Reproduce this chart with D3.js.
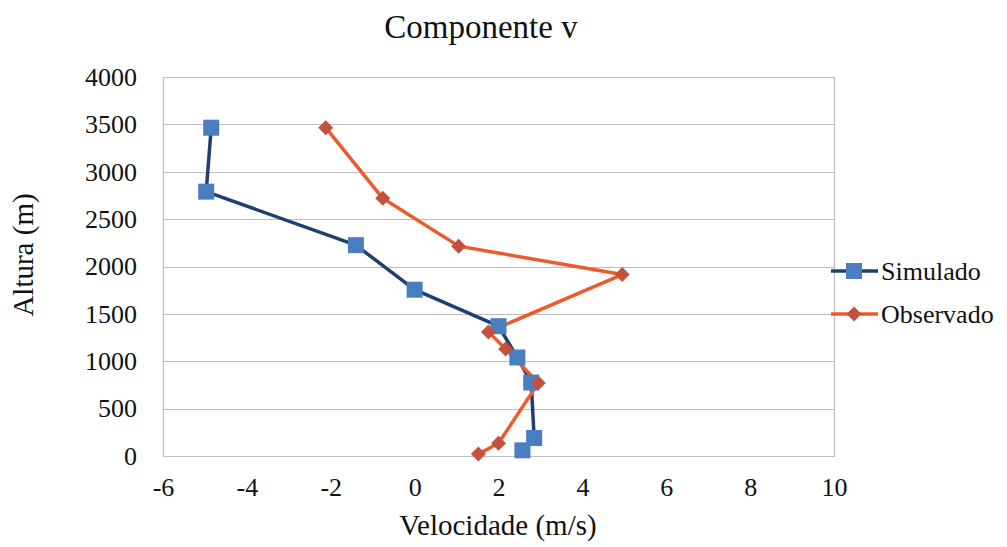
<!DOCTYPE html>
<html><head><meta charset="utf-8"><script src="https://cdn.jsdelivr.net/npm/d3@7"></script></head>
<body style="margin:0">
<svg id="chart" width="1007" height="547"></svg>
<script>
// ---- data ----
const titleText = "Componente v";
const xLabel = "Velocidade (m/s)";
const yLabel = "Altura (m)";
const seriesNames = ["Simulado", "Observado"];
const simVel = [-4.85, -4.97, -1.4, 0.0, 2.0, 2.45, 2.78, 2.85, 2.57];
const simAlt = [3465, 2790, 2225, 1755, 1370, 1040, 775, 190, 60];
const obsVel = [-2.12, -0.76, 1.05, 4.95, 1.76, 2.17, 2.95, 2.0, 1.52];
const obsAlt = [3465, 2720, 2215, 1915, 1310, 1130, 770, 135, 20];
const xTicks = [-6, -4, -2, 0, 2, 4, 6, 8, 10];
const yTicks = [0, 500, 1000, 1500, 2000, 2500, 3000, 3500, 4000];

// ---- layout ----
const FONT = "'Liberation Serif', monospace";
const svg = d3.select("#chart");
const L = 163, R = 834, T = 77, B = 456;
const x = d3.scaleLinear().domain([-6, 10]).range([L, R]);
const y = d3.scaleLinear().domain([0, 4000]).range([B, T]);
const gridColor = "#BDBDBD";

// gridlines
svg.append("g").selectAll("line").data(yTicks).join("line")
  .attr("x1", L).attr("x2", R)
  .attr("y1", d => Math.round(y(d)) + 0.5).attr("y2", d => Math.round(y(d)) + 0.5)
  .attr("stroke", gridColor).attr("stroke-width", 1.2);

// left & right borders
[L, R].forEach(px => {
  svg.append("line").attr("x1", px + 0.5).attr("x2", px + 0.5)
    .attr("y1", T).attr("y2", B + 1)
    .attr("stroke", gridColor).attr("stroke-width", 1.2);
});

// axes (labels only)
const gy = svg.append("g").attr("transform", `translate(${L},0)`)
  .call(d3.axisLeft(y).tickValues(yTicks).tickSize(0).tickPadding(26).tickFormat(d => String(d)));
gy.attr("font-family", FONT).attr("font-size", 26);
gy.select(".domain").remove();
gy.selectAll("text").attr("fill", "#111");

const gx = svg.append("g").attr("transform", `translate(0,${B})`)
  .call(d3.axisBottom(x).tickValues(xTicks).tickSize(0).tickPadding(22)
    .tickFormat(d => d < 0 ? "-" + Math.abs(d) : String(d)));
gx.attr("font-family", FONT).attr("font-size", 26);
gx.select(".domain").remove();
gx.selectAll("text").attr("fill", "#111");

// titles
svg.append("text").attr("x", 481).attr("y", 38).attr("text-anchor", "middle")
  .attr("font-size", 33).attr("fill", "#111").attr("font-family", FONT).text(titleText);
svg.append("text").attr("x", 498).attr("y", 535).attr("text-anchor", "middle")
  .attr("font-size", 29).attr("fill", "#111").attr("font-family", FONT).text(xLabel);
svg.append("text").attr("transform", "translate(33,255) rotate(-90)")
  .attr("text-anchor", "middle").attr("font-size", 29).attr("fill", "#111")
  .attr("font-family", FONT).text(yLabel);

// series
const simColorLine = "#1F3F72", simColorMark = "#4A7EC0";
const obsColorLine = "#EC5B2B", obsColorMark = "#C4503F";
const simData = simVel.map((v, i) => [v, simAlt[i]]);
const obsData = obsVel.map((v, i) => [v, obsAlt[i]]);
const line = d3.line().x(d => x(d[0])).y(d => y(d[1]));

svg.append("path").datum(simData).attr("d", line)
  .attr("fill", "none").attr("stroke", simColorLine).attr("stroke-width", 3.5)
  .attr("stroke-linejoin", "round");
svg.append("path").datum(obsData).attr("d", line)
  .attr("fill", "none").attr("stroke", obsColorLine).attr("stroke-width", 3.5)
  .attr("stroke-linejoin", "round");

const sq = 16;
svg.append("g").selectAll("rect").data(simData).join("rect")
  .attr("x", d => x(d[0]) - sq / 2).attr("y", d => y(d[1]) - sq / 2)
  .attr("width", sq).attr("height", sq).attr("fill", simColorMark);

const dm = 7.5;
svg.append("g").selectAll("path").data(obsData).join("path")
  .attr("d", d => {
    const cx = x(d[0]), cy = y(d[1]);
    return `M${cx},${cy - dm}L${cx + dm},${cy}L${cx},${cy + dm}L${cx - dm},${cy}Z`;
  })
  .attr("fill", obsColorMark);

// legend
const legY = [271, 314];
const lg = svg.append("g");
seriesNames.forEach((name, i) => {
  const cy = legY[i];
  const lc = i === 0 ? simColorLine : obsColorLine;
  const mc = i === 0 ? simColorMark : obsColorMark;
  lg.append("line").attr("x1", 831).attr("x2", 878).attr("y1", cy).attr("y2", cy)
    .attr("stroke", lc).attr("stroke-width", 3.5);
  if (i === 0) {
    lg.append("rect").attr("x", 854 - sq / 2).attr("y", cy - sq / 2)
      .attr("width", sq).attr("height", sq).attr("fill", mc);
  } else {
    lg.append("path")
      .attr("d", `M854,${cy - dm}L${854 + dm},${cy}L854,${cy + dm}L${854 - dm},${cy}Z`)
      .attr("fill", mc);
  }
  lg.append("text").attr("x", 881).attr("y", cy + 9).attr("font-size", 26)
    .attr("fill", "#111").attr("font-family", FONT).text(name);
});
</script>
</body>
</html>
